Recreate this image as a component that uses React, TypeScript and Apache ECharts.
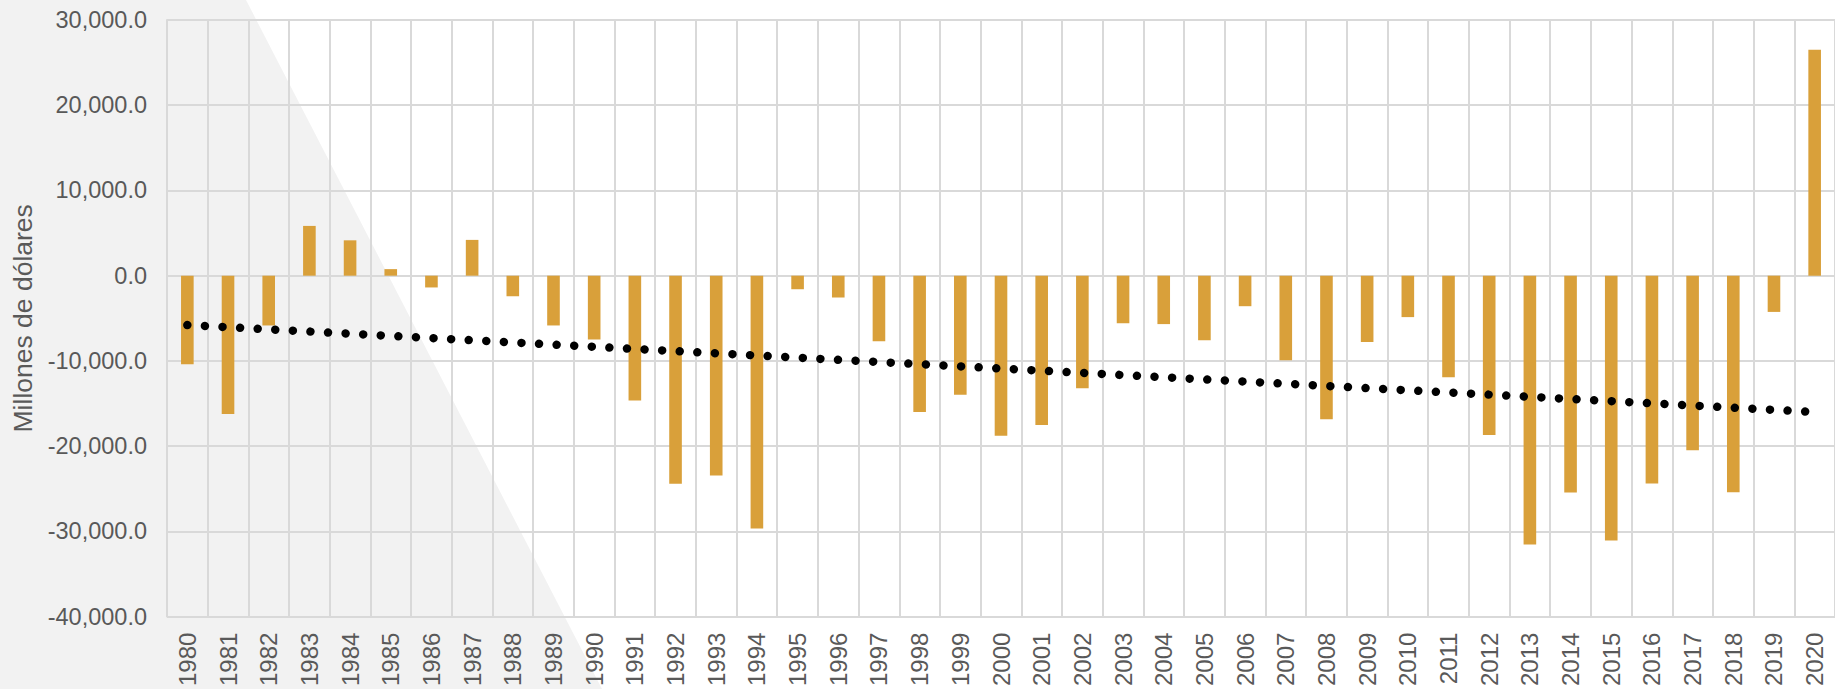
import React, { useEffect, useRef } from "react";
import * as echarts from "echarts";

const years: string[] = [
  "1980", "1981", "1982", "1983", "1984", "1985", "1986", "1987", "1988", "1989",
  "1990", "1991", "1992", "1993", "1994", "1995", "1996", "1997", "1998", "1999",
  "2000", "2001", "2002", "2003", "2004", "2005", "2006", "2007", "2008", "2009",
  "2010", "2011", "2012", "2013", "2014", "2015", "2016", "2017", "2018", "2019",
  "2020",
];

const balance: number[] = [
  -10400, -16230, -5840, 5840, 4150, 770, -1380, 4200, -2400, -5840,
  -7480, -14640, -24420, -23450, -29650, -1590, -2560, -7680, -15980, -13980,
  -18790, -17510, -13210, -5580, -5680, -7580, -3580, -9930, -16850, -7780,
  -4860, -11930, -18690, -31540, -25450, -31080, -24370, -20480, -25400, -4250,
  26520,
];

// Linear trend line: endpoints
const trendStart: [string, number] = ["1980", -5790];
const trendEnd: [string, number] = ["2020", -16000];

const yMin = -40000;
const yMax = 30000;
const yStep = 10000;

const FONT = "'Liberation Sans', Arial, sans-serif";
const TXT = "#595959";
const GRID = "#d9d9d9";

export default function App() {
  const ref = useRef<HTMLDivElement>(null);

  useEffect(() => {
    document.body.style.margin = "0";
    if (!ref.current) return;
    const chart = echarts.init(ref.current, undefined, { renderer: "svg" });
    chart.setOption({
      animation: false,
      backgroundColor: "#ffffff",
      graphic: [
        {
          type: "polygon",
          z: -100,
          silent: true,
          shape: { points: [[0, 0], [246, 0], [602, 689], [0, 689]] },
          style: { fill: "#f2f2f2" },
        },
      ],
      grid: { left: 167, right: 0, top: 20, bottom: 69, containLabel: false },
      xAxis: {
        type: "category",
        data: years,
        boundaryGap: true,
        axisLine: { show: true, lineStyle: { color: GRID, width: 2 } },
        axisTick: { show: false },
        splitLine: { show: true, lineStyle: { color: GRID, width: 2 } },
        axisLabel: {
          interval: 0,
          rotate: 90,
          margin: 16,
          fontSize: 24,
          fontFamily: FONT,
          color: TXT,
        },
      },
      yAxis: {
        type: "value",
        min: yMin,
        max: yMax,
        interval: yStep,
        name: "Millones de dólares",
        nameLocation: "middle",
        nameGap: 131,
        nameTextStyle: { fontSize: 26.5, fontFamily: FONT, color: TXT },
        axisLine: { show: true, lineStyle: { color: GRID, width: 2 } },
        axisTick: { show: false },
        splitLine: { show: true, lineStyle: { color: GRID, width: 2 } },
        axisLabel: {
          margin: 20,
          fontSize: 23.5,
          fontFamily: FONT,
          color: TXT,
          formatter: (v: number) =>
            v.toLocaleString("en-US", { minimumFractionDigits: 1, maximumFractionDigits: 1 }),
        },
      },
      series: [
        {
          type: "bar",
          data: balance,
          barWidth: "31%",
          itemStyle: { color: "#d9a03a" },
          z: 2,
        },
        {
          type: "line",
          data: [trendStart, trendEnd],
          symbol: "none",
          z: 3,
          lineStyle: {
            color: "#000000",
            width: 8.5,
            type: [0.01, 17.6],
            cap: "round",
          },
        },
      ],
    });
    return () => chart.dispose();
  }, []);

  return <div ref={ref} style={{ width: 1835, height: 689 }} />;
}
